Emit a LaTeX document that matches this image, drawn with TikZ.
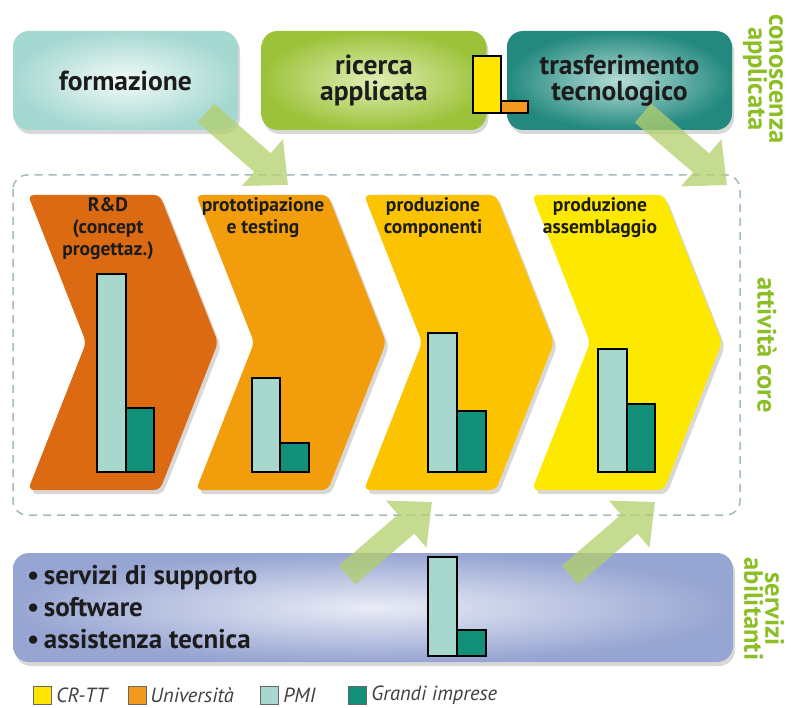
\documentclass[tikz,border=0pt]{standalone}
\usepackage{fontspec}
\setmainfont{PT Sans}
\usepackage{tikz}
\usetikzlibrary{arrows.meta,calc,positioning,shadows,shapes.symbols}
\definecolor{formCol}{HTML}{A6D8D2}
\definecolor{formIn}{HTML}{F2FAF8}
\definecolor{ricCol}{HTML}{9CC23A}
\definecolor{ricIn}{HTML}{E0EEB4}
\definecolor{trasCol}{HTML}{23897F}
\definecolor{trasIn}{HTML}{B6DDD7}
\definecolor{servCol}{HTML}{97A5D2}
\definecolor{servIn}{HTML}{E9ECF6}
\definecolor{chevA}{HTML}{DB6A12}
\definecolor{chevB}{HTML}{F29E0C}
\definecolor{chevC}{HTML}{FCC400}
\definecolor{chevD}{HTML}{FDE800}
\definecolor{crttCol}{HTML}{FFE500}
\definecolor{uniCol}{HTML}{F39A1E}
\definecolor{pmiCol}{HTML}{A8D7CE}
\definecolor{gimpCol}{HTML}{13907A}
\definecolor{sideCol}{HTML}{8CBF26}
\definecolor{dashCol}{HTML}{A2BBC0}
\definecolor{arrCol}{HTML}{B2CF6C}
\definecolor{txtCol}{HTML}{1C1C1C}
\tikzset{
  topbox/.style n args={2}{rounded corners=16pt, inner color=#2, outer color=#1,
        minimum width=225pt, minimum height=99pt, align=center, inner sep=0pt,
        font=\fontsize{27.5}{26}\selectfont\bfseries, text=txtCol,
        drop shadow={opacity=0.3, shadow xshift=2pt, shadow yshift=-4pt}},
  chev/.style={signal, signal from=west, signal to=east, signal pointer angle=137,
        fill=#1, rounded corners=6pt, minimum width=190pt, minimum height=295pt,
        inner sep=0pt, drop shadow={opacity=0.3, shadow xshift=3pt, shadow yshift=-4pt}},
  chevtxt/.style={align=center, font=\fontsize{19.5}{22}\selectfont\bfseries,
        text=txtCol, inner sep=0pt},
  pmibar/.style={draw=black, fill=pmiCol, line width=1.3pt},
  gimpbar/.style={draw=black, fill=gimpCol, line width=1.3pt},
  sidelab/.style={rotate=-90, align=center, text=sideCol,
        font=\fontsize{26.5}{21}\selectfont\bfseries, inner sep=0pt},
  legsq/.style={draw=black!60, fill=#1, minimum size=18pt, inner sep=0pt},
  legtxt/.style={font=\fontsize{20.5}{22}\selectfont\itshape, text=black!75, inner sep=0pt},
  bigarrow/.style={line width=25pt, draw=arrCol, -{Triangle[length=34pt, width=60pt]}},
}
\begin{document}
\begin{tikzpicture}[x=1pt,y=-1pt]
  \useasboundingbox[fill=white] (0,0) rectangle (791,708);
  % knowledge boxes
  \node[topbox={formCol}{formIn}] (form) at (125.5,80.5) {formazione};
  \node[topbox={ricCol}{ricIn}] (ric) at (374,80.5) {ricerca\\applicata};
  \node[topbox={trasCol}{trasIn}] (tras) at (619.5,80.5) {trasferimento\\tecnologico};
  \draw[fill=crttCol, line width=1.3pt] (473,56) rectangle (501,113);
  \draw[fill=uniCol, line width=1.3pt] (501,101) rectangle (528,113);
  % core area
  \draw[dashCol, line width=1.5pt, dash pattern=on 8pt off 6pt, rounded corners=14pt]
    (13,175) rectangle (740,515);
  \node[chev=chevA] (c1) at (123,342.5) {};
  \node[chev=chevB] (c2) at (291,342.5) {};
  \node[chev=chevC] (c3) at (459,342.5) {};
  \node[chev=chevD] (c4) at (627,342.5) {};
  \node[chevtxt, below=3pt of c1.north, xshift=-15pt] (t1) {R\&D\\(concept\\progettaz.)};
  \node[chevtxt, below=3pt of c2.north, xshift=-28pt] (t2) {prototipazione\\e testing};
  \node[chevtxt, below=3pt of c3.north, xshift=-26pt] (t3) {produzione\\componenti};
  \node[chevtxt, below=3pt of c4.north, xshift=-27pt] (t4) {produzione\\assemblaggio};
  \draw[pmibar] (97,274) rectangle (126,472);
  \draw[gimpbar] (126,408) rectangle (154,472);
  \draw[pmibar] (252,378) rectangle (280,472);
  \draw[gimpbar] (280,443) rectangle (309,472);
  \draw[pmibar] (428,333) rectangle (457,472);
  \draw[gimpbar] (457,411) rectangle (486,472);
  \draw[pmibar] (598,349) rectangle (627,472);
  \draw[gimpbar] (627,404) rectangle (655,472);
  % enabling services
  \node[topbox={servCol}{servIn}, minimum width=720pt, minimum height=109pt] (serv) at (373,607.5) {};
  \node[anchor=west, align=left, font=\fontsize{27}{32}\selectfont\bfseries, text=txtCol,
        inner sep=0pt] (servtxt) at (27,607) {\textbullet\,servizi di supporto\\\textbullet\,software\\\textbullet\,assistenza tecnica};
  \draw[pmibar] (428,557) rectangle (457,656);
  \draw[gimpbar] (457,630) rectangle (486,656);
  % flows
  \coordinate (a1s) at (206,113);
  \coordinate (a1e) at (288,185);
  \coordinate (a2s) at (643,113);
  \coordinate (a2e) at (727,185);
  \coordinate (a3s) at (347,575);
  \coordinate (a3e) at (432,502);
  \coordinate (a4s) at (570,575);
  \coordinate (a4e) at (655,502);
  \begin{scope}[transparency group, opacity=0.75]
    \draw[bigarrow] (a1s) -- (a1e);
  \end{scope}
  \begin{scope}[transparency group, opacity=0.75]
    \draw[bigarrow] (a2s) -- (a2e);
  \end{scope}
  \begin{scope}[transparency group, opacity=0.75]
    \draw[bigarrow] (a3s) -- (a3e);
  \end{scope}
  \begin{scope}[transparency group, opacity=0.75]
    \draw[bigarrow] (a4s) -- (a4e);
  \end{scope}
  % side labels
  \node[sidelab] (lk) at (763,79) {conoscenza\\applicata};
  \node[sidelab] (lc) at (767,345) {attività core};
  \node[sidelab] (ls) at (764,609) {servizi\\abilitanti};
  % legend
  \node[legsq=crttCol] (g1) at (42,695) {};
  \node[legtxt, right=5pt of g1] (g1t) {CR-TT};
  \node[legsq=uniCol] (g2) at (137,695) {};
  \node[legtxt, right=4pt of g2] (g2t) {Università};
  \node[legsq=pmiCol] (g3) at (269,695) {};
  \node[legtxt, right=5pt of g3] (g3t) {PMI};
  \node[legsq=gimpCol] (g4) at (357,695) {};
  \node[legtxt, right=5pt of g4] (g4t) {Grandi imprese};
\end{tikzpicture}
\end{document}
